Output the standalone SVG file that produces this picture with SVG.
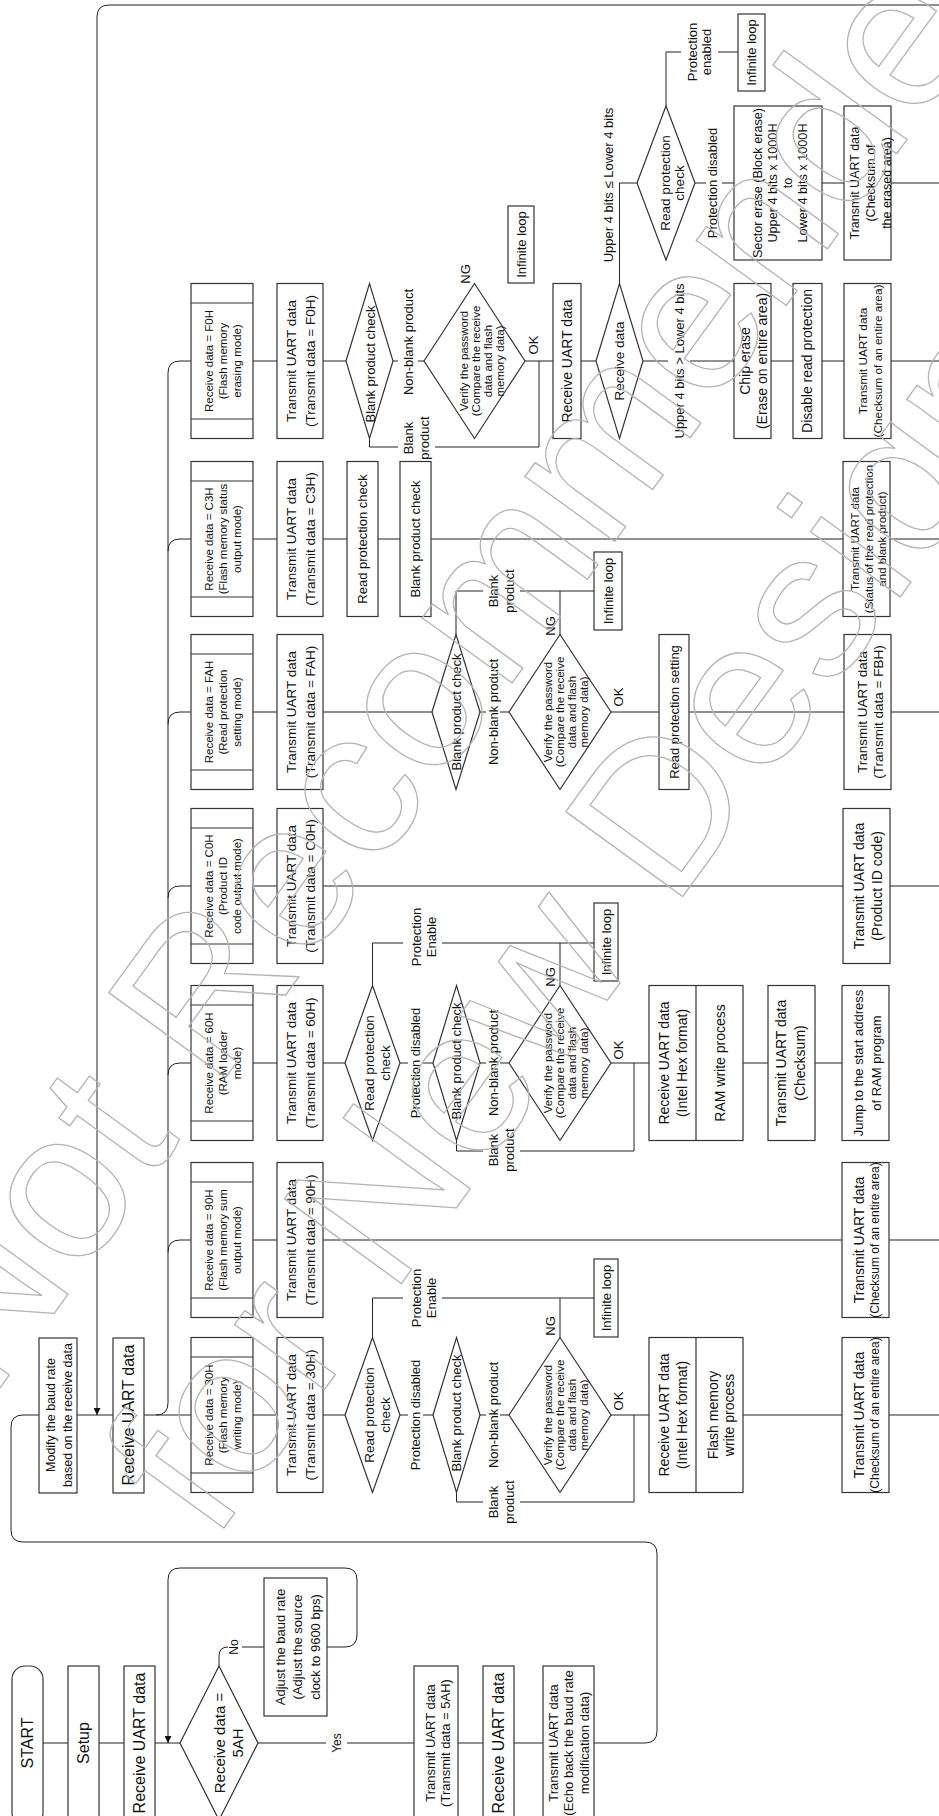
<svg xmlns="http://www.w3.org/2000/svg" width="939" height="1816" viewBox="0 0 939 1816">
<defs>
<style>
.ln{fill:none;stroke:#222;stroke-width:1}
.bx{fill:#fff;stroke:#333;stroke-width:1.2}
.il{fill:none;stroke:#333;stroke-width:1.2}
.tx{font-family:"Liberation Sans",Arial,sans-serif;fill:#111;text-anchor:middle}
.wm{font-family:"Liberation Sans",Arial,sans-serif;font-size:210px;fill:none;stroke:#b4b4b4;stroke-width:1.3;stroke-linejoin:round}
.f16{font-size:16px}.f15{font-size:15px}.f14{font-size:14px}.f135{font-size:13.5px}.f13{font-size:13px}.f127{font-size:12.7px}.f125{font-size:12.5px}.f12{font-size:12px}.f118{font-size:11.8px}.f115{font-size:11.5px}
</style>
<marker id="ah" viewBox="0 0 10 10" refX="10" refY="5" markerWidth="9" markerHeight="7" markerUnits="userSpaceOnUse" orient="auto"><path d="M0,0 L10,5 L0,10 z" fill="#111"/></marker>
</defs>
<rect width="939" height="1816" fill="#fff"/>

<g id="connectors">
<path class="ln" d="M939,5 H109 Q97,5 97,17 V1415" marker-end="url(#ah)"/>
<path class="ln" d="M594,1743 H645 Q657,1743 657,1731 V1554 Q657,1542 645,1542 H23 Q11,1542 11,1530 V1427 Q11,1415 23,1415 H39 M77,1415 H113"/>
<path class="ln" d="M43,1743 H68 M99,1743 H124 M155,1743 H180 M258,1743 H326 M347,1743 H414 M458,1743 H483 M514,1743 H543 M219,1666 V1656 Q219,1647 228,1647 M242,1647 H264"/>
<path class="ln" d="M327,1647 H345 Q357,1647 357,1635 V1580 Q357,1568 345,1568 H180 Q168,1568 168,1580 V1743" marker-end="url(#ah)"/>
<path class="ln" d="M144,1415 H191 M156,1415 Q168,1415 168,1403 V373 Q168,361 180,361 H191 M168,551 Q168,539 180,539 H191 M168,724 Q168,712 180,712 H191 M168,898 Q168,886 180,886 H191 M168,1075 Q168,1063 180,1063 H191 M168,1252 Q168,1240 180,1240 H191"/>
<path class="ln" d="M253,361 H277 M323,361 H346 M393,361 H398 M418,361 H424 M369.5,438.5 V447 H398 M435,447 H539 V361 M525,361 H553 M581,361 H596 M643,361 H668 M690,361 H734 M771,361 H793 M822,361 H844 M891,361 H939 M619.5,283.5 V183 H637 M695,183 H706 M722,183 H734 M822,183 H844 M891,183 H939 M666,106 V52 H681 M718,52 H738"/>
<path class="ln" d="M253,539 H277 M323,539 H347 M378,539 H400 M431,539 H843 M890,539 H939"/>
<path class="ln" d="M253,712 H277 M323,712 H432 M480,712 H486 M500,712 H509 M456,634.5 V591 H483 M520,591 H594 M560,634.5 V591 M611,712 H659 M689,712 H844 M891,712 H939"/>
<path class="ln" d="M253,886 H277 M323,886 H843 M890,886 H939"/>
<path class="ln" d="M253,1063 H277 M323,1063 H345 M400,1063 H408 M423,1063 H433 M480,1063 H486 M500,1063 H509 M372.5,985.5 V943 H403 M442,943 H594 M560,985.5 V943 M456.5,1140.5 V1151 H483 M520,1151 H634 V1063 M611,1063 H649 M743,1063 H768 M815,1063 H842"/>
<path class="ln" d="M253,1240 H277 M323,1240 H842 M889,1240 H939"/>
<path class="ln" d="M253,1415 H277 M323,1415 H345 M400,1415 H408 M423,1415 H433 M480,1415 H486 M500,1415 H509 M372.5,1337.5 V1298 H403 M442,1298 H594 M560,1337.5 V1298 M456.5,1492.5 V1502 H483 M520,1502 H634 V1415 M611,1415 H649 M743,1415 H842 M889,1415 H939"/>
<g id="labels">
<text class="tx f12" transform="translate(234 1647) rotate(-90)" y="4.2">No</text>
<text class="tx f12" transform="translate(337 1743) rotate(-90)" y="4.2">Yes</text>
<text class="tx f13" transform="translate(408 342) rotate(-90)" y="4.55">Non-blank product</text>
<text class="tx f13" transform="translate(416 438) rotate(-90)"><tspan x="0" y="-3.45">Blank</tspan><tspan x="0" y="12.55">product</tspan></text>
<text class="tx f13" transform="translate(465 274) rotate(-90)" y="4.55">NG</text>
<text class="tx f13" transform="translate(533 345) rotate(-90)" y="4.55">OK</text>
<text class="tx f13" transform="translate(679 361) rotate(-90)" y="4.55">Upper 4 bits &gt; Lower 4 bits</text>
<text class="tx f13" transform="translate(608 185) rotate(-90)" y="4.55">Upper 4 bits ≤ Lower 4 bits</text>
<text class="tx f13" transform="translate(712.5 183) rotate(-90)" y="4.55">Protection disabled</text>
<text class="tx f13" transform="translate(699 52) rotate(-90)"><tspan x="0" y="-2.45">Protection</tspan><tspan x="0" y="11.55">enabled</tspan></text>
<text class="tx f13" transform="translate(493 712) rotate(-90)" y="4.55">Non-blank product</text>
<text class="tx f13" transform="translate(501 591) rotate(-90)"><tspan x="0" y="-3.45">Blank</tspan><tspan x="0" y="12.55">product</tspan></text>
<text class="tx f13" transform="translate(550 626) rotate(-90)" y="4.55">NG</text>
<text class="tx f13" transform="translate(618 697) rotate(-90)" y="4.55">OK</text>
<text class="tx f13" transform="translate(415 1063) rotate(-90)" y="4.55">Protection disabled</text>
<text class="tx f13" transform="translate(493 1063) rotate(-90)" y="4.55">Non-blank product</text>
<text class="tx f13" transform="translate(423.5 937) rotate(-90)"><tspan x="0" y="-2.95">Protection</tspan><tspan x="0" y="12.05">Enable</tspan></text>
<text class="tx f13" transform="translate(550 977) rotate(-90)" y="4.55">NG</text>
<text class="tx f13" transform="translate(618 1050) rotate(-90)" y="4.55">OK</text>
<text class="tx f13" transform="translate(501 1150) rotate(-90)"><tspan x="0" y="-3.45">Blank</tspan><tspan x="0" y="12.55">product</tspan></text>
<text class="tx f13" transform="translate(415 1415) rotate(-90)" y="4.55">Protection disabled</text>
<text class="tx f13" transform="translate(493 1415) rotate(-90)" y="4.55">Non-blank product</text>
<text class="tx f13" transform="translate(423.5 1298) rotate(-90)"><tspan x="0" y="-2.95">Protection</tspan><tspan x="0" y="12.05">Enable</tspan></text>
<text class="tx f13" transform="translate(550 1326) rotate(-90)" y="4.55">NG</text>
<text class="tx f13" transform="translate(618 1401) rotate(-90)" y="4.55">OK</text>
<text class="tx f13" transform="translate(501 1502) rotate(-90)"><tspan x="0" y="-3.45">Blank</tspan><tspan x="0" y="12.55">product</tspan></text>
</g>
</g>

<g id="n-start"><rect class="bx" x="12" y="1666" width="31" height="160" rx="13"/><text class="tx f16" transform="translate(27.5 1743) rotate(-90)" y="5.6">START</text></g>
<g id="n-setup"><rect class="bx" x="68" y="1666" width="31" height="160"/><text class="tx f16" transform="translate(83.5 1743) rotate(-90)" y="5.6">Setup</text></g>
<g id="n-recv1"><rect class="bx" x="124" y="1666" width="31" height="160"/><text class="tx f16" transform="translate(139.5 1743) rotate(-90)" y="5.6">Receive UART data</text></g>
<g id="n-dec5a"><polygon class="bx" points="180,1743 219,1666 258,1743 219,1820"/><text class="tx f15" transform="translate(229 1743) rotate(-90)"><tspan x="0" y="-3.75">Receive data =</tspan><tspan x="0" y="14.25">5AH</tspan></text></g>
<g id="n-adjust"><rect class="bx" x="264" y="1578" width="63" height="138"/><text class="tx f13" transform="translate(297.5 1647) rotate(-90)"><tspan x="0" y="-12.95">Adjust the baud rate</tspan><tspan x="0" y="4.55">(Adjust the source</tspan><tspan x="0" y="22.05">clock to 9600 bps)</tspan></text></g>
<g id="n-tx5a"><rect class="bx" x="414" y="1666" width="44" height="160"/><text class="tx f13" transform="translate(437.5 1743) rotate(-90)"><tspan x="0" y="-2.95">Transmit UART data</tspan><tspan x="0" y="12.05">(Transmit data = 5AH)</tspan></text></g>
<g id="n-recv2"><rect class="bx" x="483" y="1666" width="31" height="160"/><text class="tx f16" transform="translate(498.5 1743) rotate(-90)" y="5.6">Receive UART data</text></g>
<g id="n-echo"><rect class="bx" x="543" y="1666" width="51" height="160"/><text class="tx f13" transform="translate(568.5 1743) rotate(-90)"><tspan x="0" y="-10.95">Transmit UART data</tspan><tspan x="0" y="4.55">(Echo back the baud rate</tspan><tspan x="0" y="20.05">modification data)</tspan></text></g>

<g id="n-modify"><rect class="bx" x="39" y="1338" width="38" height="155"/><text class="tx f125" transform="translate(59 1415) rotate(-90)"><tspan x="0" y="-4.125">Modify the baud rate</tspan><tspan x="0" y="12.875">based on the receive data</tspan></text></g>
<g id="n-recv3"><rect class="bx" x="113" y="1338" width="31" height="155"/><text class="tx f16" transform="translate(128.5 1415) rotate(-90)" y="5.6">Receive UART data</text></g>

<g id="n-f0-rx"><rect class="bx" x="191" y="283.5" width="62" height="155"/><path class="il" d="M191,303 H253 M191,419 H253"/><text class="tx f115" transform="translate(222.5 361) rotate(-90)"><tspan x="0" y="-9.975">Receive data = F0H</tspan><tspan x="0" y="4.025">(Flash memory</tspan><tspan x="0" y="18.025">erasing mode)</tspan></text></g>
<g id="n-c3-rx"><rect class="bx" x="191" y="461.5" width="62" height="155"/><path class="il" d="M191,481 H253 M191,597 H253"/><text class="tx f115" transform="translate(222.5 539) rotate(-90)"><tspan x="0" y="-9.975">Receive data = C3H</tspan><tspan x="0" y="4.025">(Flash memory status</tspan><tspan x="0" y="18.025">output mode)</tspan></text></g>
<g id="n-fa-rx"><rect class="bx" x="191" y="634.5" width="62" height="155"/><path class="il" d="M191,654 H253 M191,770 H253"/><text class="tx f115" transform="translate(222.5 712) rotate(-90)"><tspan x="0" y="-9.975">Receive data = FAH</tspan><tspan x="0" y="4.025">(Read protection</tspan><tspan x="0" y="18.025">setting mode)</tspan></text></g>
<g id="n-c0-rx"><rect class="bx" x="191" y="808.5" width="62" height="155"/><path class="il" d="M191,828 H253 M191,944 H253"/><text class="tx f115" transform="translate(222.5 886) rotate(-90)"><tspan x="0" y="-9.975">Receive data = C0H</tspan><tspan x="0" y="4.025">(Product ID</tspan><tspan x="0" y="18.025">code output mode)</tspan></text></g>
<g id="n-60-rx"><rect class="bx" x="191" y="985.5" width="62" height="155"/><path class="il" d="M191,1005 H253 M191,1121 H253"/><text class="tx f115" transform="translate(222.5 1063) rotate(-90)"><tspan x="0" y="-9.975">Receive data = 60H</tspan><tspan x="0" y="4.025">(RAM loader</tspan><tspan x="0" y="18.025">mode)</tspan></text></g>
<g id="n-90-rx"><rect class="bx" x="191" y="1162.5" width="62" height="155"/><path class="il" d="M191,1182 H253 M191,1298 H253"/><text class="tx f115" transform="translate(222.5 1240) rotate(-90)"><tspan x="0" y="-9.975">Receive data = 90H</tspan><tspan x="0" y="4.025">(Flash memory sum</tspan><tspan x="0" y="18.025">output mode)</tspan></text></g>
<g id="n-30-rx"><rect class="bx" x="191" y="1337.5" width="62" height="155"/><path class="il" d="M191,1357 H253 M191,1473 H253"/><text class="tx f115" transform="translate(222.5 1415) rotate(-90)"><tspan x="0" y="-9.975">Receive data = 30H</tspan><tspan x="0" y="4.025">(Flash memory</tspan><tspan x="0" y="18.025">writing mode)</tspan></text></g>

<g id="n-f0-tx"><rect class="bx" x="277" y="283.5" width="46" height="155"/><text class="tx f135" transform="translate(300.75 361) rotate(-90)"><tspan x="0" y="-4.525">Transmit UART data</tspan><tspan x="0" y="13.975">(Transmit data = F0H)</tspan></text></g>
<g id="n-c3-tx"><rect class="bx" x="277" y="461.5" width="46" height="155"/><text class="tx f135" transform="translate(300.75 539) rotate(-90)"><tspan x="0" y="-4.525">Transmit UART data</tspan><tspan x="0" y="13.975">(Transmit data = C3H)</tspan></text></g>
<g id="n-fa-tx"><rect class="bx" x="277" y="634.5" width="46" height="155"/><text class="tx f135" transform="translate(300.75 712) rotate(-90)"><tspan x="0" y="-4.525">Transmit UART data</tspan><tspan x="0" y="13.975">(Transmit data = FAH)</tspan></text></g>
<g id="n-c0-tx"><rect class="bx" x="277" y="808.5" width="46" height="155"/><text class="tx f135" transform="translate(300.75 886) rotate(-90)"><tspan x="0" y="-4.525">Transmit UART data</tspan><tspan x="0" y="13.975">(Transmit data = C0H)</tspan></text></g>
<g id="n-60-tx"><rect class="bx" x="277" y="985.5" width="46" height="155"/><text class="tx f135" transform="translate(300.75 1063) rotate(-90)"><tspan x="0" y="-4.525">Transmit UART data</tspan><tspan x="0" y="13.975">(Transmit data = 60H)</tspan></text></g>
<g id="n-90-tx"><rect class="bx" x="277" y="1162.5" width="46" height="155"/><text class="tx f135" transform="translate(300.75 1240) rotate(-90)"><tspan x="0" y="-4.525">Transmit UART data</tspan><tspan x="0" y="13.975">(Transmit data = 90H)</tspan></text></g>
<g id="n-30-tx"><rect class="bx" x="277" y="1337.5" width="46" height="155"/><text class="tx f135" transform="translate(300.75 1415) rotate(-90)"><tspan x="0" y="-4.525">Transmit UART data</tspan><tspan x="0" y="13.975">(Transmit data = 30H)</tspan></text></g>

<g id="n-f0-blank"><polygon class="bx" points="346,361 369.5,283.5 393,361 369.5,438.5"/><text class="tx f13" transform="translate(370 364) rotate(-90)" y="4.55">Blank product check</text></g>
<g id="n-f0-verify"><polygon class="bx" points="424,361 474.5,283.5 525,361 474.5,438.5"/><text class="tx f115" transform="translate(482 361) rotate(-90)"><tspan x="0" y="-13.975">Verify the password</tspan><tspan x="0" y="-1.975">(Compare the receive</tspan><tspan x="0" y="10.025">data and flash</tspan><tspan x="0" y="22.025">memory data)</tspan></text></g>
<g id="n-f0-loop1"><rect class="bx" x="508" y="206" width="26" height="77"/><text class="tx f13" transform="translate(521 244.5) rotate(-90)" y="4.55">Infinite loop</text></g>
<g id="n-f0-recv"><rect class="bx" x="553" y="283.5" width="28" height="155"/><text class="tx f14" transform="translate(567 361) rotate(-90)" y="4.9">Receive UART data</text></g>
<g id="n-f0-dec"><polygon class="bx" points="596,361 619.5,283.5 643,361 619.5,438.5"/><text class="tx f135" transform="translate(619.5 361) rotate(-90)" y="4.725">Receive data</text></g>
<g id="n-f0-chip"><rect class="bx" x="734" y="283.5" width="37" height="155"/><text class="tx f14" transform="translate(753.5 361) rotate(-90)"><tspan x="0" y="-3.6">Chip erase</tspan><tspan x="0" y="13.4">(Erase on entire area)</tspan></text></g>
<g id="n-f0-disable"><rect class="bx" x="793" y="283.5" width="29" height="155"/><text class="tx f14" transform="translate(807.5 361) rotate(-90)" y="4.9">Disable read protection</text></g>
<g id="n-f0-txall"><rect class="bx" x="844" y="283.5" width="47" height="155"/><text class="tx f118" transform="translate(870.5 361) rotate(-90)"><tspan x="0" y="-3.37">Transmit UART data</tspan><tspan x="0" y="11.63">(Checksum of an entire area)</tspan></text></g>
<g id="n-f0-rp"><polygon class="bx" points="637,183 666,106 695,183 666,260"/><text class="tx f135" transform="translate(672 183) rotate(-90)"><tspan x="0" y="-2.275">Read protection</tspan><tspan x="0" y="11.725">check</tspan></text></g>
<g id="n-f0-loop2"><rect class="bx" x="738" y="14" width="27" height="77"/><text class="tx f13" transform="translate(751.5 52.5) rotate(-90)" y="4.55">Infinite loop</text></g>
<g id="n-f0-sector"><rect class="bx" x="734" y="106" width="88" height="154"/><text class="tx f127" transform="translate(780 183) rotate(-90)"><tspan x="0" y="-17.95">Sector erase (Block erase)</tspan><tspan x="0" y="-2.95">Upper 4 bits x 1000H</tspan><tspan x="0" y="12.05">to</tspan><tspan x="0" y="27.05">Lower 4 bits x 1000H</tspan></text></g>
<g id="n-f0-txerased"><rect class="bx" x="844" y="106" width="47" height="154"/><text class="tx f125" transform="translate(871 183) rotate(-90)"><tspan x="0" y="-11.625">Transmit UART data</tspan><tspan x="0" y="4.375">(Checksum of</tspan><tspan x="0" y="20.375">the erased area)</tspan></text></g>

<g id="n-c3-rp"><rect class="bx" x="347" y="461.5" width="31" height="155"/><text class="tx f13" transform="translate(362.5 539) rotate(-90)" y="4.55">Read protection check</text></g>
<g id="n-c3-blank"><rect class="bx" x="400" y="461.5" width="31" height="155"/><text class="tx f13" transform="translate(415.5 539) rotate(-90)" y="4.55">Blank product check</text></g>
<g id="n-c3-status"><rect class="bx" x="843" y="461.5" width="47" height="155"/><text class="tx f115" transform="translate(868.5 539) rotate(-90)"><tspan x="0" y="-9.475">Transmit UART data</tspan><tspan x="0" y="4.025">(Status of the read protection</tspan><tspan x="0" y="17.525">and blank product)</tspan></text></g>

<g id="n-fa-blank"><polygon class="bx" points="432,712 456,634.5 480,712 456,789.5"/><text class="tx f13" transform="translate(456 712) rotate(-90)" y="4.55">Blank product check</text></g>
<g id="n-fa-verify"><polygon class="bx" points="509,712 560,634.5 611,712 560,789.5"/><text class="tx f115" transform="translate(565.5 712) rotate(-90)"><tspan x="0" y="-13.975">Verify the password</tspan><tspan x="0" y="-1.975">(Compare the receive</tspan><tspan x="0" y="10.025">data and flash</tspan><tspan x="0" y="22.025">memory data)</tspan></text></g>
<g id="n-fa-loop"><rect class="bx" x="594" y="552" width="28" height="78"/><text class="tx f13" transform="translate(608 591) rotate(-90)" y="4.55">Infinite loop</text></g>
<g id="n-fa-set"><rect class="bx" x="659" y="634.5" width="30" height="155"/><text class="tx f13" transform="translate(674 712) rotate(-90)" y="4.55">Read protection setting</text></g>
<g id="n-fa-txfb"><rect class="bx" x="844" y="634.5" width="47" height="155"/><text class="tx f135" transform="translate(870 712) rotate(-90)"><tspan x="0" y="-3.275">Transmit UART data</tspan><tspan x="0" y="12.725">(Transmit data = FBH)</tspan></text></g>

<g id="n-c0-txid"><rect class="bx" x="843" y="808.5" width="47" height="155"/><text class="tx f14" transform="translate(868 886) rotate(-90)"><tspan x="0" y="-4.1">Transmit UART data</tspan><tspan x="0" y="13.9">(Product ID code)</tspan></text></g>

<g id="n-60-rp"><polygon class="bx" points="345,1063 372.5,985.5 400,1063 372.5,1140.5"/><text class="tx f135" transform="translate(377.5 1063) rotate(-90)"><tspan x="0" y="-3.775">Read protection</tspan><tspan x="0" y="12.725">check</tspan></text></g>
<g id="n-60-blank"><polygon class="bx" points="433,1063 456.5,985.5 480,1063 456.5,1140.5"/><text class="tx f13" transform="translate(456.5 1061) rotate(-90)" y="4.55">Blank product check</text></g>
<g id="n-60-verify"><polygon class="bx" points="509,1063 560,985.5 611,1063 560,1140.5"/><text class="tx f115" transform="translate(565.5 1063) rotate(-90)"><tspan x="0" y="-13.975">Verify the password</tspan><tspan x="0" y="-1.975">(Compare the receive</tspan><tspan x="0" y="10.025">data and flash</tspan><tspan x="0" y="22.025">memory data)</tspan></text></g>
<g id="n-60-loop"><rect class="bx" x="594" y="903" width="24" height="78"/><text class="tx f13" transform="translate(606 942) rotate(-90)" y="4.55">Infinite loop</text></g>
<g id="n-60-ram"><rect class="bx" x="649" y="985.5" width="94" height="155"/><path class="il" d="M696,985.5 V1140.5"/><text class="tx f14" transform="translate(673 1063) rotate(-90)"><tspan x="0" y="-4.1">Receive UART data</tspan><tspan x="0" y="13.9">(Intel Hex format)</tspan></text><text class="tx f14" transform="translate(720 1063) rotate(-90)" y="4.9">RAM write process</text></g>
<g id="n-60-txck"><rect class="bx" x="768" y="985.5" width="47" height="155"/><text class="tx f14" transform="translate(790.75 1063) rotate(-90)"><tspan x="0" y="-4.35">Transmit UART data</tspan><tspan x="0" y="14.15">(Checksum)</tspan></text></g>
<g id="n-60-jump"><rect class="bx" x="842" y="985.5" width="47" height="155"/><text class="tx f13" transform="translate(867 1063) rotate(-90)"><tspan x="0" y="-4.45">Jump to the start address</tspan><tspan x="0" y="13.55">of RAM program</tspan></text></g>

<g id="n-90-txall"><rect class="bx" x="842" y="1162.5" width="47" height="155"/><text class="tx" transform="translate(867 1240) rotate(-90)"><tspan class="f14" x="0" y="-3.1">Transmit UART data</tspan><tspan class="f12" x="0" y="12.2">(Checksum of an entire area)</tspan></text></g>

<g id="n-30-rp"><polygon class="bx" points="345,1415 372.5,1337.5 400,1415 372.5,1492.5"/><text class="tx f135" transform="translate(377.5 1415) rotate(-90)"><tspan x="0" y="-3.775">Read protection</tspan><tspan x="0" y="12.725">check</tspan></text></g>
<g id="n-30-blank"><polygon class="bx" points="433,1415 456.5,1337.5 480,1415 456.5,1492.5"/><text class="tx f13" transform="translate(456.5 1413) rotate(-90)" y="4.55">Blank product check</text></g>
<g id="n-30-verify"><polygon class="bx" points="509,1415 560,1337.5 611,1415 560,1492.5"/><text class="tx f115" transform="translate(565.5 1415) rotate(-90)"><tspan x="0" y="-13.975">Verify the password</tspan><tspan x="0" y="-1.975">(Compare the receive</tspan><tspan x="0" y="10.025">data and flash</tspan><tspan x="0" y="22.025">memory data)</tspan></text></g>
<g id="n-30-loop"><rect class="bx" x="594" y="1259" width="24" height="78"/><text class="tx f13" transform="translate(606 1298) rotate(-90)" y="4.55">Infinite loop</text></g>
<g id="n-30-flash"><rect class="bx" x="649" y="1337.5" width="94" height="155"/><path class="il" d="M696,1337.5 V1492.5"/><text class="tx f14" transform="translate(673 1415) rotate(-90)"><tspan x="0" y="-4.1">Receive UART data</tspan><tspan x="0" y="13.9">(Intel Hex format)</tspan></text><text class="tx f14" transform="translate(721 1415) rotate(-90)"><tspan x="0" y="-3.1">Flash memory</tspan><tspan x="0" y="12.9">write process</tspan></text></g>
<g id="n-30-txall"><rect class="bx" x="842" y="1337.5" width="47" height="155"/><text class="tx" transform="translate(867 1415) rotate(-90)"><tspan class="f14" x="0" y="-3.1">Transmit UART data</tspan><tspan class="f12" x="0" y="12.2">(Checksum of an entire area)</tspan></text></g>

<g id="watermark">
<text class="wm" transform="translate(-11 1403) rotate(-54)">Not Recommended</text>
<text class="wm" transform="translate(213 1543) rotate(-54)">for New Designs</text>
</g>
</svg>
